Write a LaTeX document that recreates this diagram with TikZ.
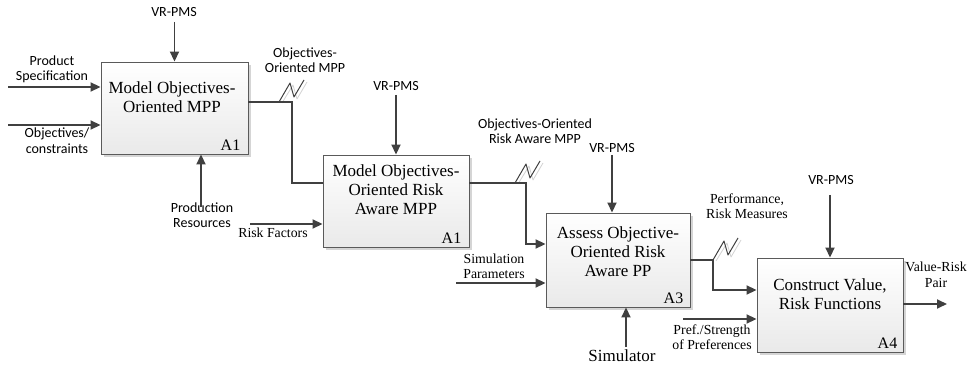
\documentclass[tikz,border=0pt]{standalone}
\usepackage{fontspec}
\setmainfont{Liberation Serif}
\newfontfamily\labsans{Carlito}
\usetikzlibrary{arrows.meta,shadows,calc}
\definecolor{ln}{HTML}{404040}
\definecolor{bd}{HTML}{5A5A5A}
\begin{document}
\begin{tikzpicture}[x=1pt,y=-1pt,
  proc/.style={draw=bd, line width=0.9pt, top color=white, bottom color=gray!17,
    drop shadow={shadow xshift=3pt, shadow yshift=-3pt, fill=gray!55, opacity=0.6},
    inner sep=0pt},
  title/.style={font=\fontsize{17}{19}\selectfont, align=center, inner sep=0pt},
  ident/.style={font=\fontsize{16}{19}\selectfont, anchor=base east, inner sep=0pt},
  sanslab/.style={font=\labsans\fontsize{14}{15.5}\selectfont, align=center, inner sep=0pt},
  seriflab/.style={font=\fontsize{13.8}{15.5}\selectfont, align=center, inner sep=0pt},
  arr/.style={draw=ln, line width=1.8pt, -{Triangle[length=10pt,width=9pt]}},
  flow/.style={draw=ln, line width=1.8pt},
  squig/.style={draw=ln, line width=1pt, line join=round},
  squigsh/.style={draw=gray!35, line width=0.8pt, line join=round}]
\useasboundingbox (0,0) rectangle (969,366);

% boxes
\node[proc, minimum width=147pt, minimum height=92pt] (b1) at (174.5,108) {};
\node[proc, minimum width=146pt, minimum height=92pt] (b2) at (396,201) {};
\node[proc, minimum width=144pt, minimum height=94pt] (b3) at (618,260) {};
\node[proc, minimum width=146pt, minimum height=94pt] (b4) at (830,305) {};

% titles
\node[title] (t1) at (172,97.5) {Model Objectives-\\Oriented MPP};
\node[title] (t2) at (396,190) {Model Objectives-\\Oriented Risk\\Aware MPP};
\node[title] (t3) at (618,252) {Assess Objective-\\Oriented Risk\\Aware PP};
\node[title] (t4) at (830,294) {Construct Value,\\Risk Functions};

% identifiers
\node[ident] (i1) at ($(b1.south east)+(-8,-4)$) {A1};
\node[ident] (i2) at ($(b2.south east)+(-8,-4)$) {A1};
\node[ident] (i3) at ($(b3.south east)+(-7,-4)$) {A3};
\node[ident] (i4) at ($(b4.south east)+(-6,-4)$) {A4};

% labels
\node[sanslab] (vr1) at (174,12) {VR-PMS};
\node[sanslab] (vr2) at (396,86) {VR-PMS};
\node[sanslab] (vr3) at (612,148) {VR-PMS};
\node[sanslab] (vr4) at (831,180) {VR-PMS};
\node[sanslab] (ps) at (52,69.5) {Product\\Specification};
\node[sanslab] (oc) at (57,140.5) {Objectives/\\constraints};
\node[sanslab] (pr) at (202,215) {Production\\Resources};
\node[sanslab] (om) at (305,60) {Objectives-\\Oriented MPP};
\node[sanslab] (orm) at (535,131) {Objectives-Oriented\\Risk Aware MPP};
\node[seriflab] (rf) at (273,233) {Risk Factors};
\node[seriflab] (sp) at (494,266.5) {Simulation\\Parameters};
\node[seriflab, font=\fontsize{17}{20}\selectfont] (sim) at (622,356) {Simulator};
\node[seriflab] (prm) at (747,206) {Performance,\\Risk Measures};
\node[seriflab] (pref) at (712,337) {Pref./Strength\\of Preferences};
\node[seriflab] (vrp) at (936,275) {Value-Risk\\Pair};

% free ends
\coordinate (s1) at (174.5,22);
\coordinate (s2) at (8,87);
\coordinate (s3) at (8,125);
\coordinate (s4) at (201,207);
\coordinate (s6) at (396,95);
\coordinate (s7) at (250,224);
\coordinate (s9) at (456,283);
\coordinate (s10) at (612,155);
\coordinate (s11) at (626,347);
\coordinate (s13) at (683,319);
\coordinate (s14) at (830,195);
\coordinate (e15) at (947,304);

% squiggles (drawn first, under the flow lines)
\coordinate (j1) at (279,102);
\coordinate (j2) at (515,183);
\coordinate (j3) at (713,260);
\foreach \j in {j1,j2,j3}{
  \draw[squigsh] ($(\j)+(3,1)$) -- ++(11,-18) -- ++(4,14) -- ++(10,-17);
  \draw[squig] (\j) -- ++(11,-19) -- ++(4,14) -- ++(10,-17);
}

% arrows into box 1
\draw[arr] (s1) -- (s1 |- b1.north);
\draw[arr] (s2) -- (s2 -| b1.west);
\draw[arr] (s3) -- (s3 -| b1.west);
\draw[arr] (s4) -- (s4 |- b1.south);

% box1 -> box2
\coordinate (o1) at (b1.east |- 0,102);
\coordinate (c1) at (292,102);
\coordinate (c1b) at (292,183);
\draw[flow] (o1) -- (c1) -- (c1b) -- (c1b -| b2.west);

% box 2
\draw[arr] (s6) -- (s6 |- b2.north);
\draw[arr] (s7) -- (s7 -| b2.west);

% box2 -> box3
\coordinate (o2) at (b2.east |- 0,183);
\coordinate (c2) at (526,183);
\coordinate (c2b) at (526,244);
\draw[arr] (o2) -- (c2) -- (c2b) -- (c2b -| b3.west);

% box 3
\draw[arr] (s9) -- (s9 -| b3.west);
\draw[arr] (s10) -- (s10 |- b3.north);
\draw[arr] (s11) -- (s11 |- b3.south);

% box3 -> box4
\coordinate (o3) at (b3.east |- 0,260);
\coordinate (c3) at (713,260);
\coordinate (c3b) at (713,290);
\draw[arr] (o3) -- (c3) -- (c3b) -- (c3b -| b4.west);

% box 4
\draw[arr] (s13) -- (s13 -| b4.west);
\draw[arr] (s14) -- (s14 |- b4.north);
\draw[arr] (e15 -| b4.east) -- (e15);
\end{tikzpicture}
\end{document}
